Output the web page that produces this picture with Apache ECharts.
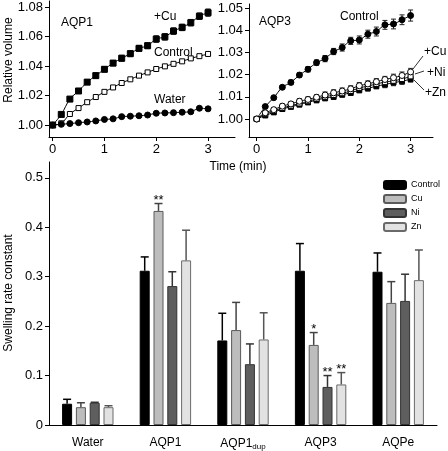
<!DOCTYPE html>
<html><head><meta charset="utf-8">
<script src="https://cdn.jsdelivr.net/npm/echarts@6/dist/echarts.min.js"></script>
<style>html,body{margin:0;padding:0;background:#fff}#c{width:448px;height:451px}</style>
</head><body><div id="c"></div>
<script>
// ---- top panels: time points (min) ----
const timeMin = [0, 0.167, 0.333, 0.5, 0.667, 0.833, 1, 1.167, 1.333, 1.5, 1.667, 1.833, 2, 2.167, 2.333, 2.5, 2.667, 2.833, 3];
// AQP1 panel
const aqp1Cu      = [1.000, 1.0072, 1.0176, 1.0231, 1.0291, 1.0335, 1.0378, 1.0420, 1.0453, 1.0484, 1.0520, 1.0538, 1.0583, 1.0598, 1.0637, 1.0662, 1.0694, 1.0738, 1.0762];
const aqp1CuErr   = [0.0004, 0.0010, 0.0012, 0.0012, 0.0015, 0.0018, 0.0018, 0.0018, 0.0020, 0.0020, 0.0020, 0.0020, 0.0022, 0.0022, 0.0022, 0.0022, 0.0022, 0.0022, 0.0025];
const aqp1Control = [1.000, 1.0012, 1.0075, 1.0115, 1.0155, 1.0190, 1.0225, 1.0255, 1.0285, 1.0310, 1.0335, 1.0357, 1.0380, 1.0398, 1.0415, 1.0432, 1.0452, 1.0467, 1.0482];
const aqp1ControlErr = [0.0003, 0.0005, 0.0006, 0.0006, 0.0006, 0.0006, 0.0006, 0.0006, 0.0006, 0.0006, 0.0006, 0.0006, 0.0006, 0.0006, 0.0006, 0.0006, 0.0006, 0.0006, 0.0006];
const aqp1Water   = [1.000, 1.0005, 1.0010, 1.0016, 1.0021, 1.0028, 1.0038, 1.0042, 1.0057, 1.0060, 1.0063, 1.0068, 1.0080, 1.0082, 1.0084, 1.0087, 1.0090, 1.0114, 1.0110];
const aqp1WaterErr = [0.0003, 0.0005, 0.0005, 0.0005, 0.0005, 0.0006, 0.0006, 0.0006, 0.0008, 0.0008, 0.0008, 0.0008, 0.0008, 0.0010, 0.0010, 0.0010, 0.0010, 0.0012, 0.0012];
// AQP3 panel
const aqp3Control = [1.000, 1.0056, 1.0096, 1.0143, 1.0165, 1.0198, 1.0224, 1.0254, 1.0272, 1.0304, 1.0322, 1.0352, 1.0356, 1.0382, 1.0394, 1.0424, 1.0428, 1.0447, 1.0466];
const aqp3ControlErr = [0.0003, 0.0006, 0.0006, 0.0008, 0.0010, 0.0010, 0.0012, 0.0012, 0.0014, 0.0014, 0.0016, 0.0016, 0.0018, 0.0018, 0.0020, 0.0020, 0.0022, 0.0022, 0.0025];
const aqp3Cu = [1.000, 1.0028, 1.0042, 1.0058, 1.0068, 1.0080, 1.0088, 1.0098, 1.0108, 1.0118, 1.0126, 1.0136, 1.0150, 1.0158, 1.0168, 1.0178, 1.0186, 1.0196, 1.0212];
const aqp3CuErr = [0.0003, 0.0008, 0.0010, 0.0010, 0.0010, 0.0012, 0.0012, 0.0012, 0.0014, 0.0014, 0.0014, 0.0014, 0.0014, 0.0014, 0.0014, 0.0014, 0.0016, 0.0016, 0.0016];
const aqp3Ni = [1.000, 1.0022, 1.0036, 1.0050, 1.0060, 1.0070, 1.0080, 1.0090, 1.0100, 1.0108, 1.0116, 1.0126, 1.0140, 1.0148, 1.0158, 1.0166, 1.0172, 1.0180, 1.0192];
const aqp3NiErr = [0.0003, 0.0008, 0.0008, 0.0010, 0.0010, 0.0010, 0.0012, 0.0012, 0.0012, 0.0012, 0.0012, 0.0012, 0.0014, 0.0014, 0.0014, 0.0014, 0.0014, 0.0014, 0.0014];
const aqp3Zn = [1.000, 1.0016, 1.0030, 1.0045, 1.0055, 1.0065, 1.0075, 1.0085, 1.0094, 1.0100, 1.0110, 1.0118, 1.0130, 1.0138, 1.0148, 1.0155, 1.0164, 1.0170, 1.0180];
const aqp3ZnErr = [0.0003, 0.0008, 0.0008, 0.0010, 0.0010, 0.0010, 0.0010, 0.0012, 0.0012, 0.0012, 0.0012, 0.0012, 0.0012, 0.0012, 0.0012, 0.0014, 0.0014, 0.0014, 0.0014];
const topXTicks = [0, 1, 2, 3];
const aqp1YTicks = [1.00, 1.02, 1.04, 1.06, 1.08];
const aqp3YTicks = [1.00, 1.01, 1.02, 1.03, 1.04, 1.05];

// ---- bottom panel: swelling rate constants ----
const categories = ['Water', 'AQP1', 'AQP1dup', 'AQP3', 'AQPe'];
const rateControl = [0.043, 0.312, 0.171, 0.312, 0.310];
const rateControlErr = [0.009, 0.028, 0.055, 0.055, 0.038];
const rateCu = [0.036, 0.433, 0.192, 0.162, 0.247];
const rateCuErr = [0.009, 0.015, 0.056, 0.025, 0.043];
const rateNi = [0.045, 0.281, 0.123, 0.077, 0.251];
const rateNiErr = [0.001, 0.029, 0.041, 0.023, 0.054];
const rateZn = [0.036, 0.333, 0.173, 0.082, 0.293];
const rateZnErr = [0.003, 0.061, 0.054, 0.024, 0.061];
const sigCu = ['', '**', '', '*', ''];
const sigNi = ['', '', '', '**', ''];
const sigZn = ['', '', '', '**', ''];
const rateYTicks = [0, 0.1, 0.2, 0.3, 0.4, 0.5];

const FONT = 'Liberation Sans, Arial, Helvetica, sans-serif';
const chart = echarts.init(document.getElementById('c'), null, {renderer: 'canvas'});

function axisBase() {
  return {
    axisLine: {show: true, onZero: false, lineStyle: {color: '#000', width: 1}},
    axisTick: {show: true, length: 4, lineStyle: {color: '#000', width: 1}},
    axisLabel: {color: '#000', fontSize: 13, fontFamily: FONT, margin: 6},
    splitLine: {show: false}
  };
}
function xTop(gi, min, max) {
  const a = axisBase();
  a.type = 'value'; a.gridIndex = gi; a.min = min; a.max = max;
  a.axisTick.customValues = topXTicks;
  a.axisLabel.customValues = topXTicks;
  return a;
}
function yVal(gi, min, max, ticks, fmt) {
  const a = axisBase();
  a.type = 'value'; a.gridIndex = gi; a.min = min; a.max = max;
  a.axisTick.customValues = ticks;
  a.axisLabel.customValues = ticks;
  a.axisLabel.formatter = fmt;
  return a;
}

function lineSeries(name, gi, ys, symbol, filled, size) {
  return {
    name: name, type: 'line', xAxisIndex: gi, yAxisIndex: gi,
    data: timeMin.map((t, i) => [t, ys[i]]),
    smooth: 0.35, symbol: symbol, symbolSize: size, showSymbol: true, showAllSymbol: true,
    lineStyle: {color: '#000', width: 1},
    itemStyle: {color: filled ? '#000' : '#fff', borderColor: '#000', borderWidth: 1},
    z: 3, animation: false, silent: true
  };
}
function errSeries(gi, ys, es, color) {
  return {
    type: 'custom', xAxisIndex: gi, yAxisIndex: gi, z: 2, animation: false, silent: true,
    data: timeMin.map((t, i) => [t, ys[i], es[i]]),
    renderItem: function (params, api) {
      const x = api.value(0), y = api.value(1), e = api.value(2);
      const hi = api.coord([x, y + e]), lo = api.coord([x, y - e]);
      const w = 2.5;
      const st = {stroke: color, lineWidth: 1};
      return {type: 'group', children: [
        {type: 'line', shape: {x1: hi[0], y1: hi[1], x2: lo[0], y2: lo[1]}, style: st},
        {type: 'line', shape: {x1: hi[0] - w, y1: hi[1], x2: hi[0] + w, y2: hi[1]}, style: st},
        {type: 'line', shape: {x1: lo[0] - w, y1: lo[1], x2: lo[0] + w, y2: lo[1]}, style: st}
      ]};
    }
  };
}

const PITCH = 13.8;
function barSeries(name, vals, fill, border) {
  return {
    name: name, type: 'bar', xAxisIndex: 2, yAxisIndex: 2, data: vals,
    barWidth: 10, barGap: '38%',
    itemStyle: {color: fill, borderColor: border, borderWidth: 1},
    animation: false, silent: true, z: 2
  };
}
function barErr(k, vals, errs, sig, color) {
  return {
    type: 'custom', xAxisIndex: 2, yAxisIndex: 2, z: 4, animation: false, silent: true,
    data: vals.map((v, i) => [i, v, errs[i]]),
    renderItem: function (params, api) {
      const i = api.value(0), v = api.value(1), e = api.value(2);
      const base = api.coord([i, v]), top = api.coord([i, v + e]);
      const x = base[0] + (k - 1.5) * PITCH;
      const st = {stroke: color, lineWidth: 1.5};
      const ch = [
        {type: 'line', shape: {x1: x, y1: base[1], x2: x, y2: top[1]}, style: st},
        {type: 'line', shape: {x1: x - 4, y1: top[1], x2: x + 4, y2: top[1]}, style: st}
      ];
      const s = sig[params.dataIndex];
      if (s) {
        ch.push({type: 'text', x: x, y: top[1] - 3,
          style: {text: s, fill: '#000', font: '13px ' + FONT, textAlign: 'center', textVerticalAlign: 'middle'}});
      }
      return {type: 'group', children: ch};
    }
  };
}

function txt(x, y, s, size, align) {
  return {type: 'text', x: x, y: y, silent: true,
    style: {text: s, fill: '#000', font: (size || 12) + 'px ' + FONT, textAlign: align || 'left', textVerticalAlign: 'middle'}};
}
function seg(x1, y1, x2, y2) {
  return {type: 'line', silent: true, shape: {x1: x1, y1: y1, x2: x2, y2: y2}, style: {stroke: '#000', lineWidth: 0.8}};
}

const option = {
  backgroundColor: '#fff',
  animation: false,
  grid: [
    {left: 49, top: 1, width: 186, height: 136},
    {left: 249, top: 4, width: 184, height: 133},
    {left: 49, top: 162, width: 388, height: 263}
  ],
  xAxis: [
    xTop(0, -0.07, 3.52),
    xTop(1, -0.15, 3.437),
    Object.assign(axisBase(), {
      type: 'category', gridIndex: 2, data: categories,
      axisTick: {show: false},
      axisLabel: {color: '#000', fontSize: 12, fontFamily: FONT, margin: 12, interval: 0,
        formatter: v => v === 'AQP1dup' ? 'AQP1{sub|dup}' : v,
        rich: {sub: {fontSize: 8, fontFamily: FONT, color: '#000', padding: [6, 0, 0, 0], verticalAlign: 'bottom'}}}
    })
  ],
  yAxis: [
    yVal(0, 0.9919, 1.0841, aqp1YTicks, v => v.toFixed(2)),
    yVal(1, 0.9919, 1.0518, aqp3YTicks, v => v.toFixed(2)),
    yVal(2, 0, 0.532, rateYTicks, v => v === 0 ? '0' : v.toFixed(1))
  ],
  legend: {
    data: ['Control', 'Cu', 'Ni', 'Zn'], orient: 'vertical', left: 383, top: 180,
    itemWidth: 22, itemHeight: 8, itemGap: 4, padding: 0,
    textStyle: {fontSize: 9, fontFamily: FONT, color: '#000'},
    selectedMode: false
  },
  series: [
    errSeries(0, aqp1Cu, aqp1CuErr, '#222'),
    errSeries(0, aqp1Control, aqp1ControlErr, '#222'),
    errSeries(0, aqp1Water, aqp1WaterErr, '#222'),
    lineSeries('AQP1 +Cu', 0, aqp1Cu, 'rect', true, 6),
    lineSeries('AQP1 Control', 0, aqp1Control, 'rect', false, 5),
    lineSeries('AQP1 Water', 0, aqp1Water, 'circle', true, 6),
    errSeries(1, aqp3Control, aqp3ControlErr, '#222'),
    errSeries(1, aqp3Cu, aqp3CuErr, '#333'),
    errSeries(1, aqp3Ni, aqp3NiErr, '#333'),
    errSeries(1, aqp3Zn, aqp3ZnErr, '#333'),
    lineSeries('AQP3 Control', 1, aqp3Control, 'circle', true, 6),
    lineSeries('AQP3 +Zn', 1, aqp3Zn, 'rect', true, 5),
    lineSeries('AQP3 +Ni', 1, aqp3Ni, 'rect', false, 5),
    lineSeries('AQP3 +Cu', 1, aqp3Cu, 'circle', false, 6),
    barSeries('Control', rateControl, '#000', '#000'),
    barSeries('Cu', rateCu, '#bdbdbd', '#5a5a5a'),
    barSeries('Ni', rateNi, '#5e5e5e', '#333'),
    barSeries('Zn', rateZn, '#e2e2e2', '#6a6a6a'),
    barErr(0, rateControl, rateControlErr, ['', '', '', '', ''], '#000'),
    barErr(1, rateCu, rateCuErr, sigCu, '#444'),
    barErr(2, rateNi, rateNiErr, sigNi, '#333'),
    barErr(3, rateZn, rateZnErr, sigZn, '#555')
  ],
  graphic: [
    txt(61, 23, 'AQP1'), txt(154, 17, '+Cu'), txt(154, 53, 'Control'), txt(154, 100, 'Water'),
    txt(259, 22, 'AQP3'), txt(340, 17, 'Control'),
    txt(424, 52, '+Cu'), txt(427, 73, '+Ni'), txt(425, 93, '+Zn'),
    seg(413, 69, 423, 56), seg(415, 74, 424, 71), seg(414, 80, 424, 90),
    txt(238, 167, 'Time (min)', 12, 'center'),
    {type: 'text', x: 9, y: 60, rotation: Math.PI / 2, silent: true,
      style: {text: 'Relative volume', fill: '#000', font: '12px ' + FONT, textAlign: 'center', textVerticalAlign: 'middle'}},
    {type: 'text', x: 9, y: 293, rotation: Math.PI / 2, silent: true,
      style: {text: 'Swelling rate constant', fill: '#000', font: '12px ' + FONT, textAlign: 'center', textVerticalAlign: 'middle'}}
  ]
};
chart.setOption(option);
</script>
</body></html>
